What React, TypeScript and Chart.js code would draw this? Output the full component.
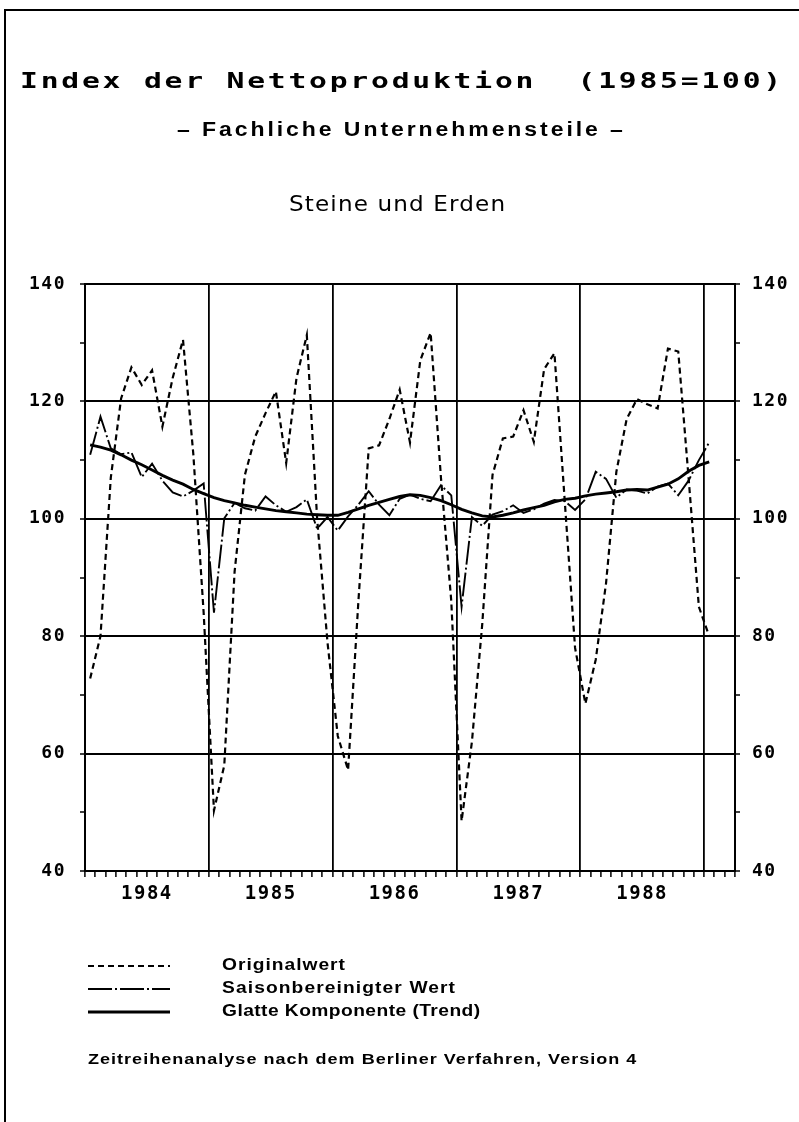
import React, { useEffect, useRef } from 'react';
import { Chart, registerables } from 'chart.js';

Chart.register(...registerables);

// ---- data (monthly, Jan 1984 .. Jan 1989) ----
const yearLabels = ['1984', '1985', '1986', '1987', '1988'];
const yMajorTicks = [40, 60, 80, 100, 120, 140];

const originalwert = [
  72.8, 80, 107, 120.5, 125.8, 122.8, 125.3, 115.7, 124, 130.5, 111, 84,
  50.3, 58, 91, 107.5, 114, 118, 121.7, 109.5, 124, 131.3, 100, 79,
  63, 57.2, 86, 112, 112.5, 117, 122, 113, 127, 131.7, 107, 86,
  48.5, 62, 82, 107.5, 113.7, 114, 118.5, 113.1, 125.5, 128.2, 103, 78,
  68.5, 76, 89, 108, 117, 120.4, 119.5, 118.8, 129, 128.5, 107, 85,
  80,
];

const saisonbereinigt = [
  110.9, 117.4, 112, 111, 111.3, 107.1, 109.4, 106.5, 104.5, 103.8, 104.8, 106,
  84, 100.1, 102.7, 101.8, 101.4, 103.8, 102.3, 101.2, 102, 103.3, 98.3, 100.3,
  98, 100.4, 102.4, 104.7, 102.4, 100.6, 103.4, 104.1, 103.4, 103, 105.7, 104,
  85, 100.3, 98.8, 100.7, 101.3, 102.3, 101, 101.6, 102.6, 103.2, 103, 101.5,
  103.3, 108, 106.8, 103.6, 105, 104.8, 104.3, 105.5, 106, 104, 106.5, 110,
  113,
];

const trend = [
  112.6, 112.2, 111.7, 110.9, 110.0, 109.2, 108.3, 107.4, 106.6, 105.9, 105.0, 104.3,
  103.6, 103.1, 102.7, 102.3, 102.0, 101.7, 101.4, 101.2, 101.0, 100.8, 100.7, 100.6,
  100.6, 101.1, 101.7, 102.3, 102.8, 103.3, 103.8, 104.1, 104.0, 103.6, 103.1, 102.4,
  101.6, 101.0, 100.5, 100.3, 100.6, 101.0, 101.5, 101.9, 102.3, 102.9, 103.3, 103.5,
  103.9, 104.2, 104.4, 104.6, 104.9, 105.0, 104.9, 105.4, 105.9, 106.8, 108.1, 109.1,
  109.7,
];

const seriesLabels = ['Originalwert', 'Saisonbereinigter Wert', 'Glatte Komponente (Trend)'];
const titleText = 'Index der Nettoproduktion  (1985=100)';
const subtitleText = '\u2013 Fachliche Unternehmensteile \u2013';
const branchText = 'Steine und Erden';
const footerText = 'Zeitreihenanalyse nach dem Berliner Verfahren, Version 4';

const W = 799;
const H = 1122;

const toPoints = (arr: number[]) => arr.map((v, i) => ({ x: i + 0.5, y: v }));

// draws text so that it spans [x, x+width]: glyphs stretched up to maxSx, rest as letter spacing
function fitText(
  ctx: CanvasRenderingContext2D, text: string, x: number, y: number,
  width: number, font: string, maxSx: number,
) {
  const c: any = ctx;
  ctx.save();
  ctx.font = font;
  ctx.textBaseline = 'middle';
  ctx.textAlign = 'left';
  ctx.fillStyle = '#000';
  const hasLs = 'letterSpacing' in c;
  if (hasLs) c.letterSpacing = '0px';
  const n = Array.from(text).length;
  const w0 = ctx.measureText(text).width;
  let sx = Math.min(maxSx, width / w0);
  if (!hasLs) sx = width / w0;
  const ls = (width / sx - w0) / Math.max(1, n - 1);
  ctx.translate(x, y);
  ctx.scale(sx, 1);
  if (hasLs) c.letterSpacing = ls.toFixed(2) + 'px';
  ctx.fillText(text, 0, 0);
  if (hasLs) c.letterSpacing = '0px';
  ctx.restore();
}

const dashes: number[][] = [[6, 4], [24, 3, 2, 3], []];
const widths = [2.2, 1.9, 2.9];

const pagePlugin = {
  id: 'pageText',
  beforeDraw(chart: any) {
    const c: any = chart.ctx;
    if ('letterSpacing' in c) c.letterSpacing = '1.5px';
  },
  afterDraw(chart: any) {
    const ctx: CanvasRenderingContext2D = chart.ctx;
    const c: any = ctx;
    if ('letterSpacing' in c) c.letterSpacing = '0px';
    ctx.save();
    // page frame
    ctx.strokeStyle = '#000';
    ctx.lineWidth = 2;
    ctx.setLineDash([]);
    ctx.beginPath();
    ctx.moveTo(5, H);
    ctx.lineTo(5, 10);
    ctx.lineTo(W, 10);
    ctx.stroke();

    fitText(ctx, titleText, 20, 82, 761, 'bold 22px "DejaVu Sans Mono"', 1.35);
    fitText(ctx, subtitleText, 177, 130, 446, 'bold 20px "Liberation Sans"', 1.15);
    fitText(ctx, branchText, 289, 206, 216, '21px "DejaVu Sans"', 1.1);

    // legend
    const rows = [966, 989, 1012];
    const textWidths = [123, 233, 258];
    chart.data.datasets.forEach((ds: any, i: number) => {
      const y = rows[i];
      ctx.strokeStyle = '#000';
      ctx.lineWidth = widths[i];
      ctx.setLineDash(dashes[i]);
      ctx.beginPath();
      ctx.moveTo(88, y);
      ctx.lineTo(170, y);
      ctx.stroke();
      ctx.setLineDash([]);
      fitText(ctx, ds.label, 222, y, textWidths[i], 'bold 16px "Liberation Sans"', 1.2);
    });

    fitText(ctx, footerText, 88, 1060, 548, 'bold 15px "Liberation Sans"', 1.2);
    ctx.restore();
  },
};

export default function App() {
  const ref = useRef<HTMLCanvasElement | null>(null);

  useEffect(() => {
    if (!ref.current) return;
    const tickFont = { family: '"DejaVu Sans Mono"', weight: 'bold' as const, size: 18 };
    const yGrid = {
      color: (c: any) => (c.tick && c.tick.value % 20 === 0 ? '#000' : 'rgba(0,0,0,0)'),
      lineWidth: 2,
      tickLength: 5,
      tickColor: '#000',
      tickWidth: 1.5,
    };
    const chart = new Chart(ref.current, {
      type: 'line',
      data: {
        datasets: [
          {
            label: seriesLabels[0],
            data: toPoints(originalwert),
            borderColor: '#000',
            borderWidth: widths[0],
            borderDash: dashes[0],
            pointRadius: 0,
            tension: 0,
            fill: false,
          },
          {
            label: seriesLabels[1],
            data: toPoints(saisonbereinigt),
            borderColor: '#000',
            borderWidth: widths[1],
            borderDash: dashes[1],
            pointRadius: 0,
            tension: 0,
            fill: false,
          },
          {
            label: seriesLabels[2],
            data: toPoints(trend),
            borderColor: '#000',
            borderWidth: widths[2],
            pointRadius: 0,
            tension: 0,
            fill: false,
          },
        ],
      },
      options: {
        animation: false,
        responsive: false,
        events: [],
        layout: { padding: { left: 0, right: 0, top: 284, bottom: 0 } },
        plugins: { legend: { display: false }, tooltip: { enabled: false }, title: { display: false } },
        scales: {
          x: {
            type: 'linear',
            position: 'bottom',
            min: 0,
            max: 63,
            afterFit: (s: any) => { s.height = 251; },
            ticks: {
              stepSize: 1,
              maxTicksLimit: 100,
              autoSkip: false,
              maxRotation: 0,
              minRotation: 0,
              padding: 6,
              color: '#000',
              font: { ...tickFont, size: 19 },
              callback: (v: any) => {
                const n = Number(v);
                const idx = (n - 6) / 12;
                return n % 12 === 6 && idx >= 0 && idx < yearLabels.length ? yearLabels[idx] : '';
              },
            },
            grid: {
              color: (c: any) => (c.tick && c.tick.value % 12 === 0 ? '#000' : 'rgba(0,0,0,0)'),
              lineWidth: 1.8,
              tickLength: 6,
              tickColor: '#000',
              tickWidth: 1.5,
            },
            border: { display: true, color: '#000', width: 2 },
          },
          y: {
            type: 'linear',
            position: 'left',
            min: 40,
            max: 140,
            afterFit: (s: any) => { s.width = 85; },
            ticks: {
              stepSize: 10,
              padding: 14,
              color: '#000',
              font: tickFont,
              callback: (v: any) => (yMajorTicks.includes(Number(v)) ? String(v) : ''),
            },
            grid: yGrid,
            border: { display: true, color: '#000', width: 2 },
          },
          y2: {
            type: 'linear',
            position: 'right',
            min: 40,
            max: 140,
            afterFit: (s: any) => { s.width = 64; },
            ticks: {
              stepSize: 10,
              padding: 12,
              color: '#000',
              font: tickFont,
              callback: (v: any) => (yMajorTicks.includes(Number(v)) ? String(v) : ''),
            },
            grid: { ...yGrid, drawOnChartArea: false },
            border: { display: true, color: '#000', width: 2 },
          },
        },
      },
      plugins: [pagePlugin],
    } as any);
    return () => chart.destroy();
  }, []);

  return (
    <div style={{ position: 'absolute', left: 0, top: 0, width: W, height: H, background: '#fff' }}>
      <canvas ref={ref} width={W} height={H} style={{ display: 'block' }} />
    </div>
  );
}
